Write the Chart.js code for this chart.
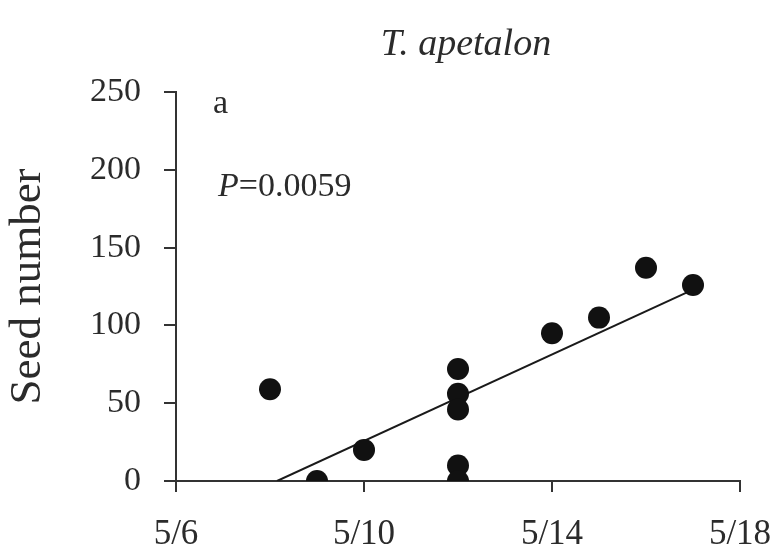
<!DOCTYPE html>
<html>
<head>
<meta charset="utf-8">
<script src="https://cdn.jsdelivr.net/npm/chart.js@4"></script>
<style>
    body { margin: 0; background: #fff; }
    canvas { display: block; }
</style>
</head>
<body>
<canvas id="seedChart" width="778" height="551"></canvas>
<script>
// May dates as day numbers
const seedDays = [8, 9, 10, 12, 12, 12, 12, 12, 14, 15, 16, 17];
const seedCounts = [59, 0, 20, 72, 56, 46, 10, 0, 95, 105, 137, 126];

// fitted regression line (end points)
const fitDays = [8.15, 17];
const fitCounts = [0, 123];

const xTickValues = [6, 10, 14, 18];
const xTickLabels = ["5/6", "5/10", "5/14", "5/18"];
const yTickValues = [0, 50, 100, 150, 200, 250];

const titleText = "T. apetalon";
const panelLetter = "a";
const pLabel = "P";
const pValue = "=0.0059";

const serif = "'Liberation Serif', 'DejaVu Serif', serif";
const ink = "#2b2b2b";

const annotations = {
    id: "annotations",
    afterDraw(chart) {
        const ctx = chart.ctx;
        const area = chart.chartArea;
        ctx.save();
        ctx.fillStyle = ink;
        ctx.textBaseline = "alphabetic";

        ctx.font = "italic 38px " + serif;
        ctx.textAlign = "center";
        ctx.fillText(titleText, 466, 55);

        ctx.textAlign = "left";
        ctx.font = "34px " + serif;
        ctx.fillText(panelLetter, area.left + 37, 113);

        ctx.font = "italic 34px " + serif;
        ctx.fillText(pLabel, area.left + 42, 196);
        const w = ctx.measureText(pLabel).width;
        ctx.font = "34px " + serif;
        ctx.fillText(pValue, area.left + 42 + w, 196);
        ctx.restore();
    }
};

new Chart(document.getElementById("seedChart"), {
    type: "scatter",
    data: {
        datasets: [{
            label: "Seed number",
            data: seedDays.map((d, i) => ({ x: d, y: seedCounts[i] })),
            pointRadius: 11,
            pointHoverRadius: 11,
            backgroundColor: "#111",
            borderWidth: 0
        }, {
            label: "Fit",
            data: fitDays.map((d, i) => ({ x: d, y: fitCounts[i] })),
            showLine: true,
            pointRadius: 0,
            borderColor: "#1a1a1a",
            borderWidth: 2
        }]
    },
    options: {
        responsive: false,
        animation: false,
        layout: { padding: { top: 92, right: 38, left: 0, bottom: 0 } },
        plugins: {
            legend: { display: false },
            tooltip: { enabled: false }
        },
        scales: {
            x: {
                type: "linear",
                min: 6,
                max: 18,
                afterBuildTicks: scale => { scale.ticks = xTickValues.map(v => ({ value: v })); },
                afterFit: scale => {
                    scale.height = 70;
                    scale.paddingLeft = 0;
                    scale.paddingRight = 0;
                },
                ticks: {
                    color: ink,
                    padding: 22,
                    font: { family: serif, size: 35 },
                    callback: v => xTickLabels[xTickValues.indexOf(v)]
                },
                grid: { display: true, drawOnChartArea: false, drawTicks: true, tickLength: 11, color: "#333", lineWidth: 2 },
                border: { display: true, color: "#333", width: 2 }
            },
            y: {
                min: 0,
                max: 250,
                afterBuildTicks: scale => { scale.ticks = yTickValues.map(v => ({ value: v })); },
                afterFit: scale => { scale.width = 176; },
                ticks: {
                    color: ink,
                    padding: 23,
                    font: { family: serif, size: 34 }
                },
                grid: { display: true, drawOnChartArea: false, drawTicks: true, tickLength: 12, color: "#333", lineWidth: 2 },
                border: { display: true, color: "#333", width: 2 },
                title: {
                    display: true,
                    text: "Seed number",
                    color: ink,
                    padding: { top: 1, bottom: 0 },
                    font: { family: serif, size: 45 }
                }
            }
        }
    },
    plugins: [annotations]
});
</script>
</body>
</html>
